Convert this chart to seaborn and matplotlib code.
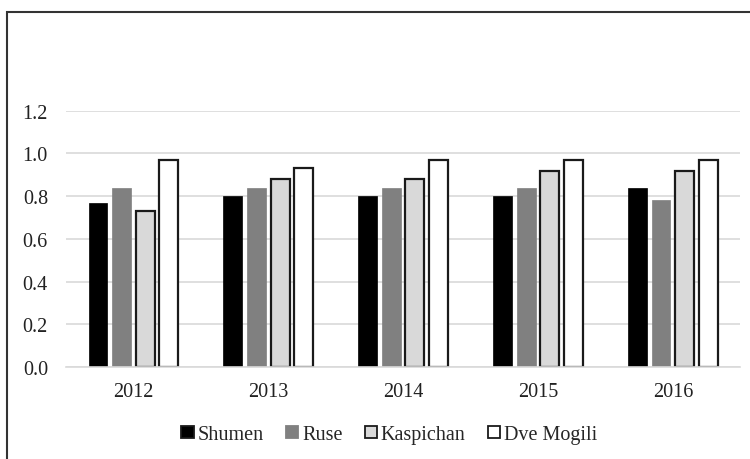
import seaborn as sns
import matplotlib.pyplot as plt
import matplotlib.patches as mpatches
import pandas as pd

years = ["2012", "2013", "2014", "2015", "2016"]
towns = ["Shumen", "Ruse", "Kaspichan", "Dve Mogili"]
shumen = [0.77, 0.80, 0.80, 0.80, 0.84]
ruse = [0.84, 0.84, 0.84, 0.84, 0.78]
kaspichan = [0.73, 0.88, 0.88, 0.92, 0.92]
dve_mogili = [0.97, 0.93, 0.97, 0.97, 0.97]

rows = []
for town, vals in zip(towns, [shumen, ruse, kaspichan, dve_mogili]):
    for y, v in zip(years, vals):
        rows.append({"year": y, "town": town, "value": v})
df = pd.DataFrame(rows)

sns.set_style("white")
plt.rcParams["font.family"] = ["Liberation Serif", "DejaVu Serif"]

colors = {"Shumen": "#000000", "Ruse": "#808080", "Kaspichan": "#d9d9d9", "Dve Mogili": "#ffffff"}
edges = {"Shumen": "#000000", "Ruse": "#808080", "Kaspichan": "#1a1a1a", "Dve Mogili": "#1a1a1a"}

fig = plt.figure(figsize=(7.5, 4.6), dpi=100)
ax = fig.add_axes([0.088, 0.2, 0.899, 0.557])

sns.barplot(data=df, x="year", y="value", hue="town", order=years, hue_order=towns,
            palette=colors, width=0.7, gap=0.2, ax=ax, legend=False)

for cont, town in zip(ax.containers, towns):
    for bar in cont:
        bar.set_edgecolor(edges[town])
        bar.set_linewidth(1.6 if town in ("Kaspichan", "Dve Mogili") else 0.5)

ax.set_ylim(0, 1.2)
ax.set_xlim(-0.5, 4.5)
ax.set_yticks([0.0, 0.2, 0.4, 0.6, 0.8, 1.0, 1.2])
ax.set_yticklabels([f"{t:.1f}" for t in [0.0, 0.2, 0.4, 0.6, 0.8, 1.0, 1.2]])
ax.yaxis.grid(True, color="#d9d9d9", linewidth=1.2)
ax.set_axisbelow(True)
for s in ["top", "right", "left"]:
    ax.spines[s].set_visible(False)
ax.spines["bottom"].set_color("#d9d9d9")
ax.spines["bottom"].set_linewidth(1.2)
ax.tick_params(axis="both", length=0, labelsize=14.5, colors="#222222")
ax.tick_params(axis="y", pad=13)
ax.tick_params(axis="x", pad=11)
ax.set_xlabel("")
ax.set_ylabel("")

handles = [mpatches.Patch(facecolor=colors[t], edgecolor="#1a1a1a" if t != "Ruse" else "#808080",
                          linewidth=1.3, label=t) for t in towns]
fig.legend(handles=handles, loc="center", bbox_to_anchor=(0.519, 0.053), ncol=4, frameon=False,
           fontsize=14.5, handlelength=0.6, handleheight=0.6, handletextpad=0.2, columnspacing=1.1)

fig.patches.append(mpatches.Rectangle((0.0093, -0.1), 1.2, 1.072, transform=fig.transFigure,
                                      fill=False, edgecolor="#333333", linewidth=1.5))

fig.savefig("out.png", dpi=100)
